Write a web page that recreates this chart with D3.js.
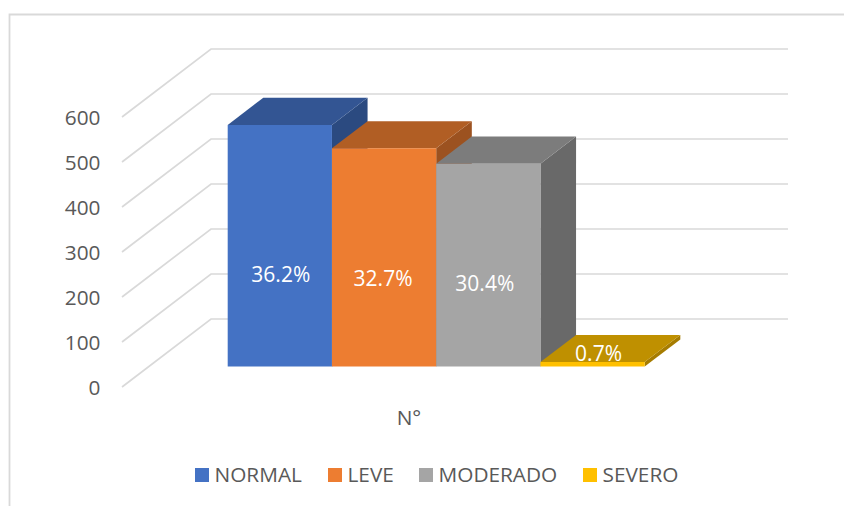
<!DOCTYPE html>
<html>
<head>
<meta charset="utf-8">
<script src="https://cdn.jsdelivr.net/npm/d3@7"></script>
<style>
  html, body { margin: 0; padding: 0; background: #fff; }
  svg { display: block; }
  text { font-family: "Open Sans", sans-serif; fill: #595959; }
</style>
</head>
<body>
<div id="container"></div>
<script>
const categories = ["NORMAL", "LEVE", "MODERADO", "SEVERO"];
const values = [537, 485, 451, 10];
const percents = ["36.2%", "32.7%", "30.4%", "0.7%"];
const yTicks = [0, 100, 200, 300, 400, 500, 600];
const seriesName = "N°";

const frontColors = ["#4472c4", "#ed7d31", "#a5a5a5", "#ffc000"];
const topColors = ["#335593", "#b15e24", "#7c7c7c", "#bf9000"];
const sideColors = ["#2b4a80", "#9c5220", "#696969", "#a67c00"];

const w = 844;
const h = 506;
const fontSize = "20.8px";

//the data labels were dragged by hand in the original, so each one has its own nudge
const labelLift = [91.5, 87.5, 82.5, 12.5];
const labelShift = [1, -1, -3.5, 6];

const svg = d3.select("#container")
  .append("svg")
  .attr("width", w)
  .attr("height", h);

//THE FRAME (right and bottom edges are cut off in the original)
svg.append("path")
  .attr("d", `M9.5,${h} V14.5 H${w}`)
  .attr("fill", "none")
  .attr("stroke", "#d9d9d9")
  .attr("stroke-width", 1.8);

//THE SCALES
//yScale gives the height on the front plane, depth goes from the front (0) to the back wall (1)
const yScale = d3.scaleLinear().domain([0, 600]).range([387, 117]);
const depthX = d3.scaleLinear().domain([0, 1]).range([0, 89]);
const depthY = d3.scaleLinear().domain([0, 1]).range([0, -68]);
const xScale = d3.scaleBand().domain(categories).range([201, 618]);

const project = (x, value, depth) => [x + depthX(depth), yScale(value) + depthY(depth)];
const poly = pts => pts.map(p => p.join(",")).join(" ");

//THE GRID
const gridX = [122, 788];
svg.append("g")
  .selectAll("polyline")
  .data(yTicks)
  .enter()
  .append("polyline")
  .attr("points", d => poly([
    project(gridX[0], d, 0),
    project(gridX[0], d, 1),
    [gridX[1], yScale(d) + depthY(1)]
  ]))
  .attr("fill", "none")
  .attr("stroke", "#d9d9d9")
  .attr("stroke-width", 1.7);

//THE AXIS
const yAxis = d3.axisLeft(yScale).tickValues(yTicks).tickSize(0).tickPadding(0).tickFormat(d3.format("d"));
const axisG = svg.append("g")
  .attr("transform", "translate(100.5, 1)")
  .call(yAxis);
axisG.select(".domain").remove();
axisG.selectAll("text")
  .style("font-family", '"Open Sans", sans-serif')
  .style("font-size", fontSize)
  .style("fill", "#595959");

//THE BARS
const depthFront = 0.3;
const depthBack = 0.7;

const bars = svg.selectAll(".bar")
  .data(categories)
  .enter()
  .append("g")
  .attr("class", "bar");

bars.append("polygon")
  .attr("points", (d, i) => {
    const x1 = xScale(d) + xScale.bandwidth();
    return poly([
      project(x1, values[i], depthFront),
      project(x1, values[i], depthBack),
      project(x1, 0, depthBack),
      project(x1, 0, depthFront)
    ]);
  })
  .attr("fill", (d, i) => sideColors[i]);

bars.append("polygon")
  .attr("points", (d, i) => {
    const x0 = xScale(d);
    const x1 = x0 + xScale.bandwidth();
    return poly([
      project(x0, values[i], depthFront),
      project(x1, values[i], depthFront),
      project(x1, values[i], depthBack),
      project(x0, values[i], depthBack)
    ]);
  })
  .attr("fill", (d, i) => topColors[i]);

bars.append("polygon")
  .attr("points", (d, i) => {
    const x0 = xScale(d);
    const x1 = x0 + xScale.bandwidth();
    return poly([
      project(x0, 0, depthFront),
      project(x1, 0, depthFront),
      project(x1, values[i], depthFront),
      project(x0, values[i], depthFront)
    ]);
  })
  .attr("fill", (d, i) => frontColors[i]);

//THE DATA LABELS
bars.append("text")
  .attr("x", (d, i) => project(xScale(d) + xScale.bandwidth() / 2, 0, depthFront)[0] + labelShift[i])
  .attr("y", (d, i) => project(0, 0, depthFront)[1] - labelLift[i])
  .attr("text-anchor", "middle")
  .attr("dy", "0.35em")
  .style("font-size", "21px")
  .style("fill", "#fff")
  .text((d, i) => percents[i]);

//THE SERIES NAME
svg.append("text")
  .attr("x", 409)
  .attr("y", 425)
  .attr("text-anchor", "middle")
  .style("font-size", fontSize)
  .text(seriesName);

//THE LEGEND
const legendSwatchX = [195, 328, 419, 583];
const legend = svg.selectAll(".legend-item")
  .data(categories)
  .enter()
  .append("g")
  .attr("class", "legend-item")
  .attr("transform", (d, i) => `translate(${legendSwatchX[i]}, 468)`);

legend.append("rect")
  .attr("width", 14)
  .attr("height", 14)
  .attr("fill", (d, i) => frontColors[i]);

legend.append("text")
  .attr("x", 19.5)
  .attr("y", 14)
  .style("font-size", fontSize)
  .text(d => d);
</script>
</body>
</html>
